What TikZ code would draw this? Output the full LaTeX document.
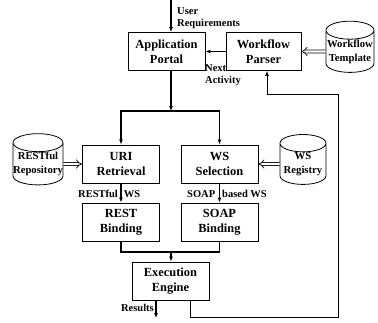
\documentclass[tikz,border=0pt]{standalone}
\usepackage{fontspec}
\setmainfont{Liberation Serif}
\usetikzlibrary{positioning,shapes.geometric,arrows.meta}

\newcommand{\tight}[1]{\makebox[40pt]{#1}}

\begin{document}
\begin{tikzpicture}[x=1pt,y=-1pt,>={Latex[length=5pt,width=4pt]},
  box/.style={draw,line width=0.8pt,minimum width=77pt,minimum height=38pt,align=center,font=\bfseries\fontsize{12.4}{15}\selectfont},
  store/.style={draw,line width=0.8pt,cylinder,shape border rotate=90,aspect=0.45,minimum width=48pt,minimum height=49pt,inner sep=0pt,align=center,font=\bfseries\fontsize{10.7}{14}\selectfont},
  lbl/.style={align=left,inner sep=0pt,font=\bfseries\fontsize{10.5}{12}\selectfont},
  flow/.style={->,line width=1.6pt},
  feed/.style={double,double distance=2.4pt,line width=0.7pt,-{Implies}}]
  \useasboundingbox (0,0) rectangle (378,322);

  \node[box] (portal) at (166.5,51.5) {Application\\Portal};
  \node[box,minimum width=75pt] (parser) at (263.5,51.5) {Workflow\\Parser};
  \node[store] (tmpl) at (350,51.5) {\tight{Workflow}\\\tight{Template}};
  \node[box] (uri) at (121,164) {URI\\Retrieval};
  \node[box] (wssel) at (219.5,164) {WS\\Selection};
  \node[store,minimum width=50pt,minimum height=45pt] (repo) at (38,164) {\tight{RESTful}\\\tight{Repository}};
  \node[store,minimum width=46pt,minimum height=45pt] (reg) at (303,164) {WS\\Registry};
  \node[box] (rest) at (121,222) {REST\\Binding};
  \node[box] (soap) at (219.5,222) {SOAP\\Binding};
  \node[box] (exec) at (170.5,281) {Execution\\Engine};

  \node[lbl,anchor=west] (usr) at (177,18) {User\\Requirements};
  \node[lbl,anchor=north west] (next) at (205,64) {Next\\Activity};
  \node[lbl,anchor=west] (rws) at (78,194) {RESTful\hspace{6pt}WS};
  \node[lbl,anchor=west] (sws) at (187,194) {SOAP\hspace{7pt}based WS};
  \node[lbl,anchor=east] (resl) at (154,308) {Results};

  \coordinate (in) at (171,0);
  \coordinate (split) at (171,111);
  \coordinate (merge) at (171,252);
  \coordinate (out) at (156,318);

  \draw[flow] (in) -- (in |- portal.north);
  \draw[flow] (parser.west) -- (portal.east);
  \draw[feed] (tmpl.west) -- (parser.east);
  \draw[flow] (split |- portal.south) -- (split);
  \draw[flow] (split) -| (uri.north);
  \draw[flow] (split) -| (wssel.north);
  \draw[feed] (repo.east) -- (uri.west);
  \draw[feed] (reg.west) -- (wssel.east);
  \draw[flow] (uri) -- (rest);
  \draw[flow] (wssel) -- (soap);
  \draw[line width=1.6pt] (rest.south) |- (merge) -| (soap.south);
  \draw[flow] (merge) -- (merge |- exec.north);
  \draw[flow] (out |- exec.south) -- (out);
  \draw[->,line width=0.8pt] ([xshift=19.5pt]exec.south) -- ++(0,17) -| (338,94) -| ([xshift=3.5pt]parser.south);
\end{tikzpicture}
\end{document}
